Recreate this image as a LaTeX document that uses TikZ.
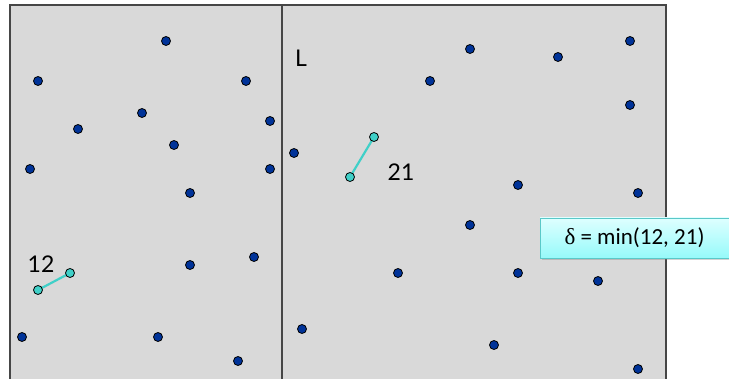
\documentclass[tikz,border=0pt]{standalone}
\usepackage{fontspec}
\setmainfont{Carlito}
\newfontfamily\labelfont{Lato}
\newfontfamily\greekfont{Liberation Serif}
\usetikzlibrary{shadows}
\definecolor{planegray}{RGB}{217,217,217}
\definecolor{edgegray}{RGB}{70,70,70}
\definecolor{ptnavy}{RGB}{0,51,153}
\definecolor{pairteal}{RGB}{64,208,200}
\definecolor{boxtop}{RGB}{222,255,255}
\definecolor{boxbot}{RGB}{150,250,250}
\definecolor{boxedge}{RGB}{90,200,200}

\begin{document}
\begin{tikzpicture}[x=1pt, y=-1pt,
    pt/.style={circle, draw=black, fill=ptnavy, line width=0.8pt, inner sep=0pt, minimum size=9pt},
    hit/.style={pt, fill=pairteal},
    pairline/.style={pairteal, line width=2.2pt},
    lbl/.style={font=\labelfont\fontsize{23}{23}\selectfont},
    deltabox/.style={draw=boxedge, top color=boxtop, bottom color=boxbot, line width=0.8pt,
      drop shadow={opacity=0.35, shadow xshift=1.5pt, shadow yshift=-2pt},
      minimum width=189pt, minimum height=40pt, font=\fontsize{23}{23}\selectfont}]
  \useasboundingbox (0,0) rectangle (729,379);
  \draw[fill=planegray, draw=edgegray, line width=1.5pt] (10,5) rectangle (666,390);
  \draw[edgegray, line width=1.3pt] (282,5) -- (282,390);
  % points
  \foreach \x/\y [count=\i] in {166/41, 38/81, 246/81, 142/113, 78/129, 270/121, 174/145,
      30/169, 270/169, 190/193, 294/153, 430/81, 470/49, 558/57, 630/41, 630/105, 518/185,
      638/193, 470/225, 398/273, 518/273, 598/281, 190/265, 254/257, 22/337, 158/337,
      238/361, 302/329, 494/345, 638/369}
    \node[pt] (p\i) at (\x,\y) {};
  % closest pairs
  \draw[pairline] (38,290) node[hit] (l1) {} -- (70,273) node[hit] (l2) {};
  \draw[pairline] (350,177) node[hit] (r1) {} -- (374,137) node[hit] (r2) {};
  \node[lbl] (mid) at (301,58) {L};
  \node[lbl] (lpair) at (41,264) {12};
  \node[lbl] (rpair) at (401,172) {21};
  \node[deltabox] (delta) at (634.5,238) {{\greekfont δ} = min(12, 21)};
\end{tikzpicture}
\end{document}
